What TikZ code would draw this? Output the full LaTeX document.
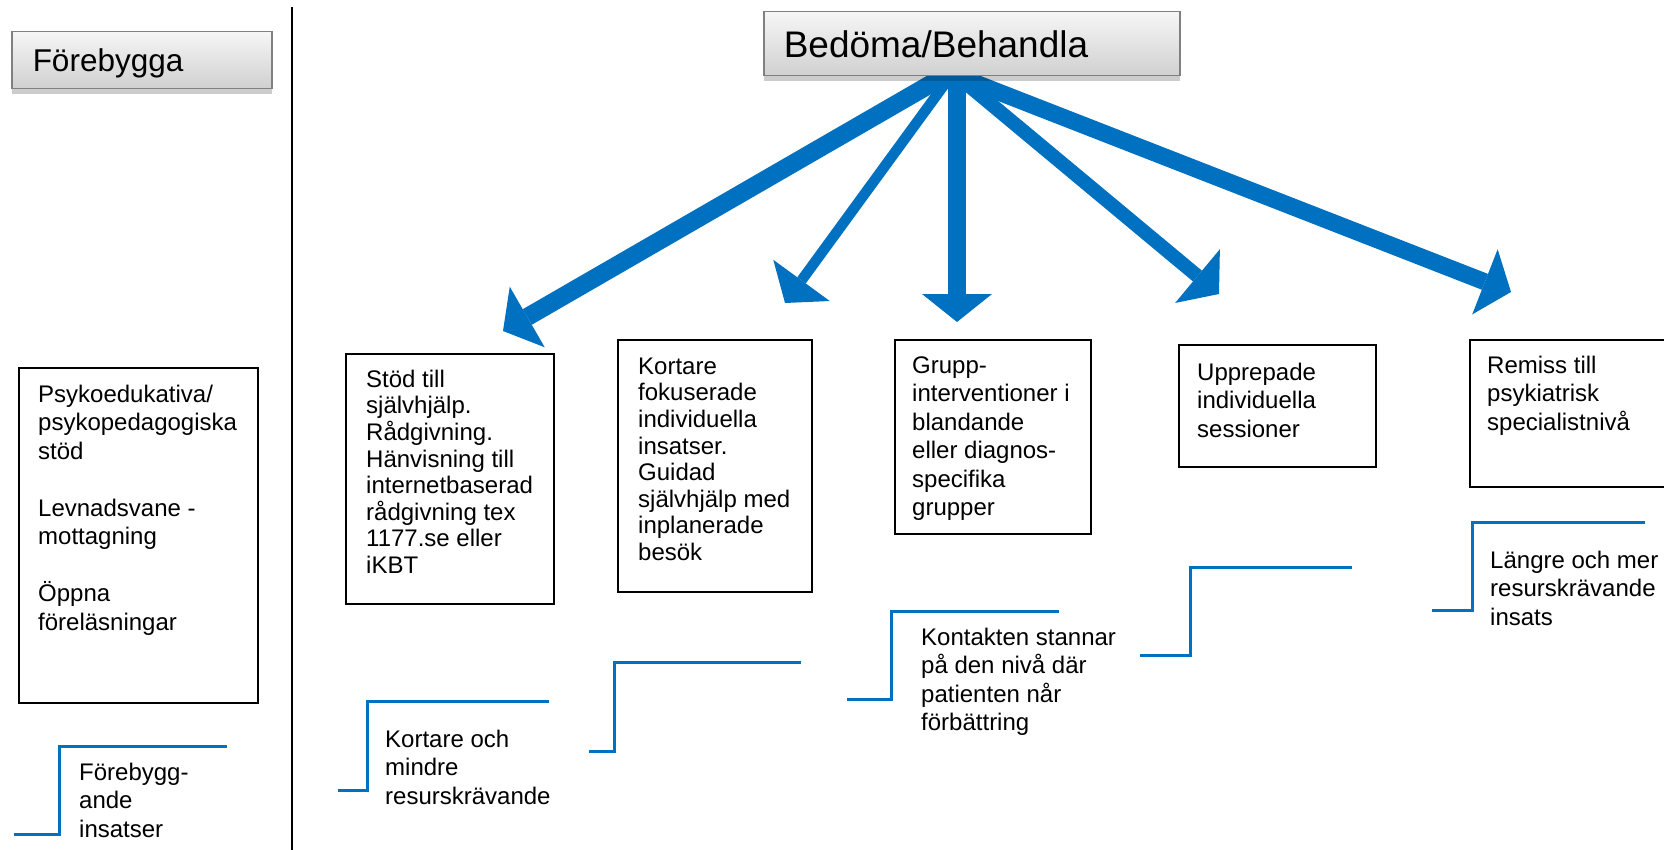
\documentclass[tikz,border=0pt]{standalone}
\usepackage{fontspec}
\setmainfont{Liberation Sans}
\usetikzlibrary{arrows.meta,shadows,calc}
\definecolor{obl}{HTML}{0070C0}
\definecolor{hdrtop}{HTML}{F6F6F6}
\definecolor{hdrbot}{HTML}{D0D0D0}
\definecolor{hdrline}{HTML}{808080}
\newcommand\fstrut{\rule{0pt}{18pt}}
\begin{document}
\begin{tikzpicture}[x=1pt,y=-1pt,
  box/.style={draw=black, line width=2pt, anchor=north west, inner sep=0pt},
  txt/.style={anchor=north west, inner sep=0pt, align=left, font=\fontsize{24pt}{28.5pt}\selectfont},
  tighttxt/.style={txt, font=\fontsize{24pt}{26.6pt}\selectfont},
  stair/.style={draw=obl, line width=3pt},
  hdr/.style={draw=hdrline, line width=1.5pt, top color=hdrtop, bottom color=hdrbot,
    anchor=north west, inner ysep=0pt, align=left,
    drop shadow={shadow xshift=0pt, shadow yshift=-5pt, fill=black, opacity=0.2}},
  arr/.style={draw=obl, -{Triangle[width=70pt,length=28pt,line width=0pt]}}
]
\useasboundingbox (0,0) rectangle (1664,850);

% divider
\coordinate (dtop) at (292,7);
\coordinate (dbot) at (292,850);
\draw[line width=2.5pt] (dtop) -- (dbot);

% arrows (drawn before the header so that its shadow lies over their roots)
\coordinate (s1) at (955,70);  \coordinate (t1) at (503,331);
\coordinate (s2) at (955,70);  \coordinate (t2) at (785,303);
\coordinate (s3) at (957,70);  \coordinate (t3) at (957,322);
\coordinate (s4) at (950,70);  \coordinate (t4) at (1219,294);
\coordinate (s5) at (942,70);  \coordinate (t5) at (1511,292);
\draw[arr, line width=18pt]   (s1) -- (t1);
\draw[arr, line width=10.5pt] (s2) -- (t2);
\draw[arr, line width=17.5pt] (s3) -- (t3);
\draw[arr, line width=14pt]   (s4) -- (t4);
\draw[arr, line width=17pt]   (s5) -- (t5);

% headers
\node[hdr, inner xsep=21pt, text width=218pt, text height=40pt, text depth=17pt,
      font=\fontsize{31.5pt}{36pt}\selectfont] (fore) at (11,31) {Förebygga};
\node[hdr, inner xsep=20pt, text width=376pt, text height=46pt, text depth=18pt,
      font=\fontsize{37pt}{42pt}\selectfont] (bed) at (763,11) {Bedöma/Behandla};

% boxes
\node[box, minimum width=239pt, minimum height=335pt] (bpsy) at (18,367) {};
\node[box, minimum width=208pt, minimum height=250pt] (ba) at (345,353) {};
\node[box, minimum width=194pt, minimum height=252pt] (bb) at (617,339) {};
\node[box, minimum width=196pt, minimum height=194pt] (bc) at (894,339) {};
\node[box, minimum width=197pt, minimum height=122pt] (bd) at (1178,344) {};
\node[box, minimum width=230pt, minimum height=147pt] (be) at (1469,339) {};

% box texts
\node[txt] (tpsy) at (38,384) {\fstrut Psykoedukativa/\\psykopedagogiska\\stöd\\[28.5pt]Levnadsvane -\\mottagning\\[28.5pt]Öppna\\föreläsningar};
\node[tighttxt] (ta) at (366,369) {\fstrut Stöd till\\självhjälp.\\Rådgivning.\\Hänvisning till\\internetbaserad\\rådgivning tex\\1177.se eller\\iKBT};
\node[tighttxt] (tb) at (638,356) {\fstrut Kortare\\fokuserade\\individuella\\insatser.\\Guidad\\självhjälp med\\inplanerade\\besök};
\node[txt] (tc) at (912,355) {\fstrut Grupp-\\interventioner i\\blandande\\eller diagnos-\\specifika\\grupper};
\node[txt] (td) at (1197,362) {\fstrut Upprepade\\individuella\\sessioner};
\node[txt] (te) at (1487,355) {\fstrut Remiss till\\psykiatrisk\\specialistnivå};

% stairs
\draw[stair] (14,834) -- (59,834) -- (59,746) -- (227,746);
\draw[stair] (338,790) -- (367,790) -- (367,701) -- (549,701);
\draw[stair] (589,751) -- (614,751) -- (614,662) -- (801,662);
\draw[stair] (847,699) -- (891,699) -- (891,611) -- (1059,611);
\draw[stair] (1140,655) -- (1190,655) -- (1190,567) -- (1352,567);
\draw[stair] (1432,610) -- (1472,610) -- (1472,522) -- (1645,522);

% stair texts
\node[txt] (tf) at (79,762) {\fstrut Förebygg-\\ande\\insatser};
\node[txt] (tk) at (385,729) {\fstrut Kortare och\\mindre\\resurskrävande};
\node[txt] (tn) at (921,627) {\fstrut Kontakten stannar\\på den nivå där\\patienten når\\förbättring};
\node[txt] (tl) at (1490,550) {\fstrut Längre och mer\\resurskrävande\\insats};
\end{tikzpicture}
\end{document}
